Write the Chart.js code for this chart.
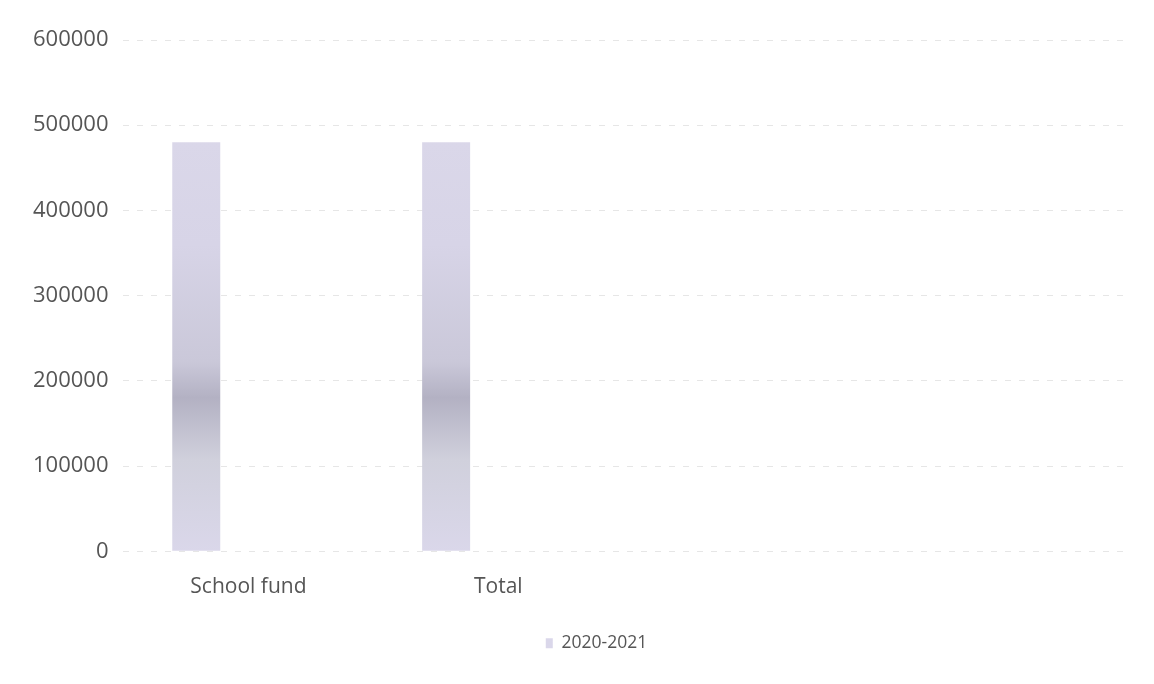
<!DOCTYPE html>
<html>
<head>
<meta charset="utf-8">
<script src="https://cdn.jsdelivr.net/npm/chart.js@4/dist/chart.umd.min.js"></script>
<style>
  html, body { margin: 0; padding: 0; background: #fff; }
  #wrap { width: 1154px; height: 684px; }
</style>
</head>
<body>
<div id="wrap"><canvas id="barChart" width="1154" height="684"></canvas></div>
<script>
// categories on the x axis (the last two slots are empty in the original)
const categories = ["School fund", "Total", "", ""];
// amounts for 2020-2021
const fund2020 = [480000, 480000, null, null];
// empty companion series, keeps bars on the left of each slot like the original
const placeholder = [null, null, null, null];
const seriesLabel = "2020-2021";
const yTicks = [0, 100000, 200000, 300000, 400000, 500000, 600000];

const textColor = "#555555";
const fontFamily = "'Open Sans', sans-serif";

// soft lavender fill, a bit darker round the middle like the scan
const barFill = (context) => {
  const chart = context.chart;
  const area = chart.chartArea;
  if (!area) return "#d6d3e6";
  const g = chart.ctx.createLinearGradient(0, area.bottom, 0, area.top);
  g.addColorStop(0.0, "#dad7ea");
  g.addColorStop(0.18, "#d0d0dc");
  g.addColorStop(0.3, "#b3b1c3");
  g.addColorStop(0.37, "#cac8d9");
  g.addColorStop(0.6, "#d7d4e7");
  g.addColorStop(1.0, "#dddaeb");
  return g;
};

// the legend in the original sits a little right of centre
const legendShift = {
  id: "legendShift",
  afterLayout(chart) {
    if (chart.legend) {
      chart.legend.left += 26;
      chart.legend.right += 26;
    }
  },
};

const data = {
  labels: categories,
  datasets: [
    {
      label: seriesLabel,
      data: fund2020,
      backgroundColor: barFill,
      borderWidth: 0,
    },
    {
      label: "",
      data: placeholder,
      backgroundColor: "rgba(0,0,0,0)",
      borderWidth: 0,
    },
  ],
};

const options = {
  responsive: false,
  animation: false,
  layout: { padding: { left: 18, right: 31, top: 40, bottom: 22 } },
  datasets: {
    bar: { categoryPercentage: 0.835, barPercentage: 0.46 },
  },
  scales: {
    x: {
      grid: { display: false },
      border: { display: false },
      ticks: {
        color: textColor,
        font: { family: fontFamily, size: 21 },
        padding: 15,
        maxRotation: 0,
      },
    },
    y: {
      min: 0,
      max: 600000,
      afterBuildTicks: (axis) => {
        axis.ticks = yTicks.map((v) => ({ value: v }));
      },
      grid: { color: "#e6e6e6", lineWidth: 1, drawTicks: false },
      border: { display: false, dash: [6, 8] },
      ticks: {
        color: textColor,
        font: { family: fontFamily, size: 22 },
        padding: 15,
        callback: (v) => String(v),
      },
    },
  },
  plugins: {
    tooltip: { enabled: false },
    legend: {
      position: "bottom",
      labels: {
        color: textColor,
        font: { family: fontFamily, size: 17.5 },
        boxWidth: 7,
        boxHeight: 10,
        padding: 20,
        filter: (item) => item.text !== "",
      },
    },
  },
};

const ctx = document.getElementById("barChart");
new Chart(ctx, { type: "bar", data: data, options: options, plugins: [legendShift] });
</script>
</body>
</html>
